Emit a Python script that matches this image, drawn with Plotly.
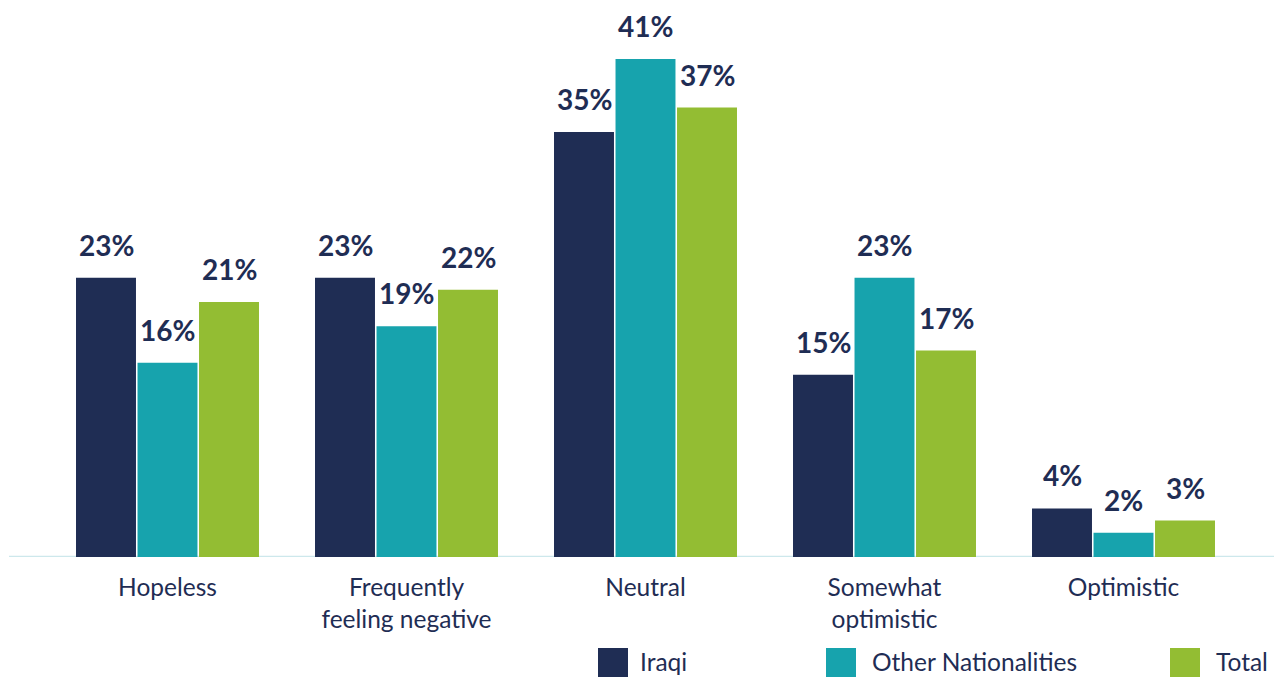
import plotly.graph_objects as go

categories = ["Hopeless", "Frequently<br>feeling negative", "Neutral", "Somewhat<br>optimistic", "Optimistic"]
series_names = ["Iraqi", "Other Nationalities", "Total"]
iraqi = [23, 23, 35, 15, 4]
other = [16, 19, 41, 23, 2]
total = [21, 22, 37, 17, 3]
colors = ["#1f2d54", "#17a3ad", "#93bd33"]

NAVY = "#1f2d54"
FONT = "Lato"
BARGAP = 0.228

fig = go.Figure()
all_vals = [iraqi, other, total]
for name, vals, col in zip(series_names, all_vals, colors):
    fig.add_trace(go.Bar(
        x=list(range(len(categories))), y=vals, name=name,
        marker=dict(color=col, line=dict(width=0)),
        showlegend=False, hoverinfo="y",
    ))

# value labels above each bar
slot = (1 - BARGAP) / 3
for k, vals in enumerate(all_vals):
    for i, v in enumerate(vals):
        fig.add_annotation(x=i + (k - 1) * slot, y=v, xref="x", yref="y",
                           text=f"<b>{v}%</b>", showarrow=False, yanchor="bottom",
                           yshift=14,
                           font=dict(family=FONT, size=28, color=NAVY))

# the page has an 8px body margin; figure is sized/positioned accordingly
W, H = 1274, 669
ml, mt, mb = 40, 0, 120
pw = 1195
mr = W - ml - pw
ph = H - mt - mb
fig.update_layout(
    width=W, height=H,
    margin=dict(l=ml, r=mr, t=mt, b=mb, pad=0),
    paper_bgcolor="white", plot_bgcolor="white",
    barmode="group", bargap=BARGAP, bargroupgap=0.025,
    font=dict(family=FONT, color=NAVY),
    xaxis=dict(showgrid=False, showline=False, zeroline=False,
               range=[-0.5, len(categories) - 0.5],
               tickmode="array", tickvals=list(range(len(categories))), ticktext=categories,
               tickfont=dict(family=FONT, size=24.5, color=NAVY),
               ticks="outside", ticklen=9, tickcolor="rgba(0,0,0,0)"),
    yaxis=dict(visible=False, range=[0, 41 * ph / 498], showgrid=False, zeroline=False),
)

# baseline across the full width
fig.add_shape(type="line", xref="paper", yref="y",
              x0=(1 - ml) / pw, x1=(W + 10 - ml) / pw, y0=0, y1=0,
              line=dict(color="#cde8ec", width=2.5), layer="below")

# legend drawn manually (figure pixel coords)
def py(p):
    return (ph - (p - mt)) / ph
def px(p):
    return (p - ml) / pw
legend_items = [(590, 631), (818, 863), (1162, 1207)]
for (sx, tx), name, col in zip(legend_items, series_names, colors):
    fig.add_shape(type="rect", xref="paper", yref="paper",
                  x0=px(sx), x1=px(sx + 30), y0=py(669), y1=py(640),
                  fillcolor=col, line=dict(width=0))
    fig.add_annotation(xref="paper", yref="paper", x=px(tx), y=py(669),
                       text=name, showarrow=False, xanchor="left", yanchor="bottom",
                       borderpad=0,
                       font=dict(family=FONT, size=24.5, color=NAVY))

fig.write_html("out.html")
